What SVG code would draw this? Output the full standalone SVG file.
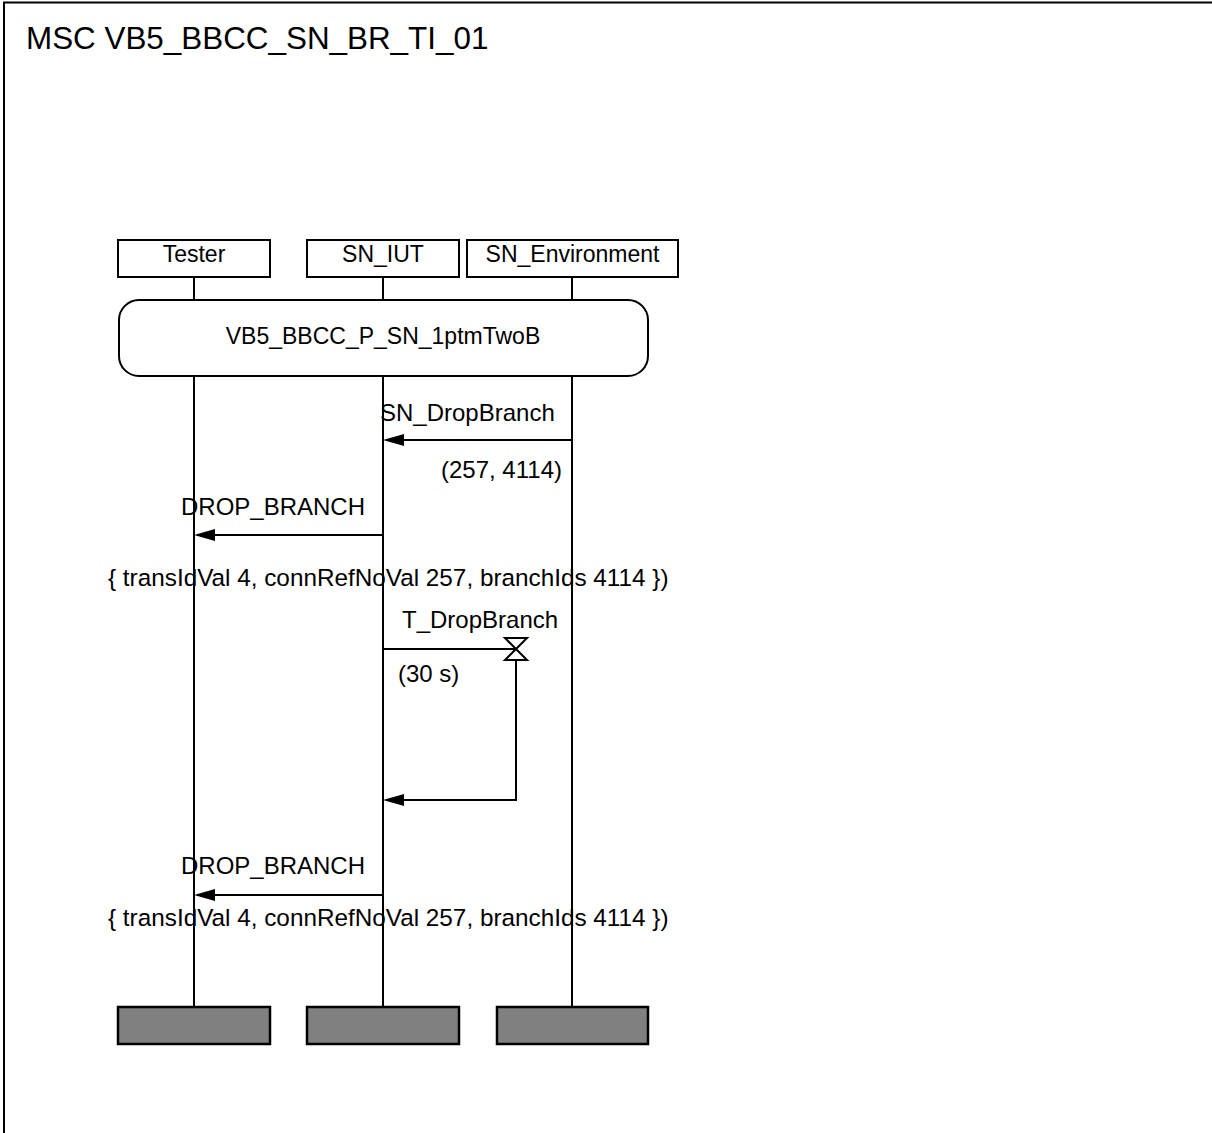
<svg xmlns="http://www.w3.org/2000/svg" width="1212" height="1133" viewBox="0 0 1212 1133">
<defs>
<style>
text{font-family:"Liberation Sans",Arial,sans-serif;fill:#000}
.t{font-size:24px}
.p{font-size:24.3px}
.h{font-size:23px;text-anchor:middle}
.ttl{font-size:31.4px}
.box{fill:#fff;stroke:#000;stroke-width:2}
.end{fill:#808080;stroke:#000;stroke-width:2.5}
.ll{stroke:#000;stroke-width:2;fill:none}
.msg{stroke:#000;stroke-width:2;fill:none}
.ah{fill:#000}
</style>
</defs>
<rect width="1212" height="1133" fill="#fff"/>
<rect x="4" y="2.5" width="1220" height="1200" fill="none" stroke="#000" stroke-width="2"/>
<text class="ttl" x="26" y="49">MSC VB5_BBCC_SN_BR_TI_01</text>

<g id="tester">
<rect class="box" x="118" y="240" width="152" height="37"/>
<text class="h" x="194" y="262">Tester</text>
<line class="ll" x1="194" y1="277" x2="194" y2="300"/>
<line class="ll" x1="194" y1="376" x2="194" y2="1007"/>
<rect class="end" x="118" y="1007" width="152" height="37"/>
</g>
<g id="sn_iut">
<rect class="box" x="307" y="240" width="152" height="37"/>
<text class="h" x="383" y="262">SN_IUT</text>
<line class="ll" x1="383" y1="277" x2="383" y2="300"/>
<line class="ll" x1="383" y1="376" x2="383" y2="1007"/>
<rect class="end" x="307" y="1007" width="152" height="37"/>
</g>
<g id="sn_env">
<rect class="box" x="467" y="240" width="211" height="37"/>
<text class="h" x="572.5" y="262">SN_Environment</text>
<line class="ll" x1="572" y1="277" x2="572" y2="300"/>
<line class="ll" x1="572" y1="376" x2="572" y2="1007"/>
<rect class="end" x="497" y="1007" width="151" height="37"/>
</g>
<g id="ref">
<rect class="box" x="119" y="300" width="529" height="76" rx="20" ry="20"/>
<text class="h" x="383" y="344">VB5_BBCC_P_SN_1ptmTwoB</text>
</g>

<g id="connectors">
<line class="msg" x1="572" y1="440" x2="403" y2="440"/>
<path class="ah" d="M383,440 L404,434 L404,446 Z"/>
<text class="t" x="380" y="421">SN_DropBranch</text>
<text class="t" x="441" y="478">(257, 4114)</text>

<line class="msg" x1="383" y1="535" x2="214" y2="535"/>
<path class="ah" d="M194,535 L215,529 L215,541 Z"/>
<text class="t" x="181" y="515">DROP_BRANCH</text>
<text class="p" x="108" y="586">{ transIdVal 4, connRefNoVal 257, branchIds 4114 })</text>

<line class="msg" x1="383" y1="649" x2="516" y2="649"/>
<path d="M505,638 L527,638 L505,660 L527,660 Z" fill="#fff" stroke="#000" stroke-width="2"/>
<text class="t" x="402" y="628">T_DropBranch</text>
<text class="t" x="398" y="682">(30 s)</text>
<polyline class="msg" points="516,660 516,800 403,800"/>
<path class="ah" d="M383,800 L404,794 L404,806 Z"/>

<line class="msg" x1="383" y1="895" x2="214" y2="895"/>
<path class="ah" d="M194,895 L215,889 L215,901 Z"/>
<text class="t" x="181" y="874">DROP_BRANCH</text>
<text class="p" x="108" y="926">{ transIdVal 4, connRefNoVal 257, branchIds 4114 })</text>
</g>
</svg>
